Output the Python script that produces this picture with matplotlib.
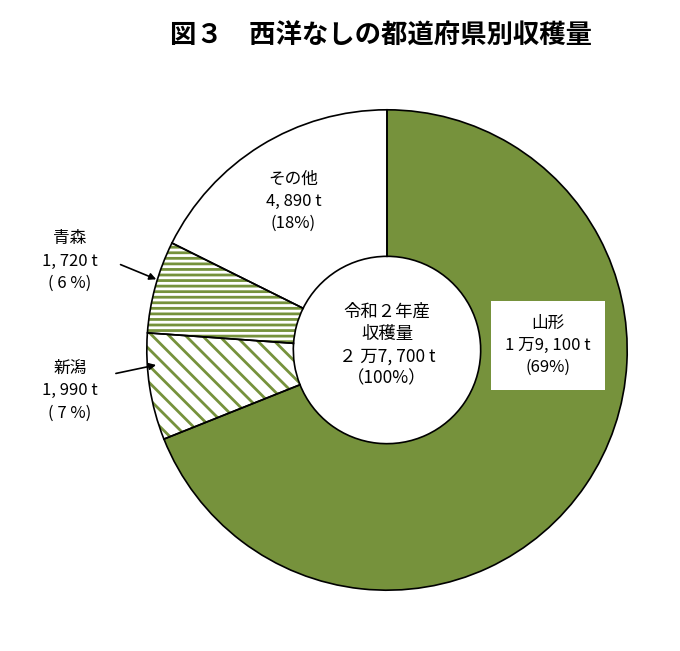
import matplotlib
matplotlib.use("Agg")
import matplotlib.pyplot as plt

plt.rcParams['font.family'] = ['Noto Sans CJK JP', 'DejaVu Sans']

categories = ['山形', '新潟', '青森', 'その他']
values = [19100, 1990, 1720, 4890]
labels = ['山形\n1 万9, 100 t\n(69%)', '新潟\n1, 990 t\n( 7 %)', '青森\n1, 720 t\n( 6 %)', 'その他\n4, 890 t\n(18%)']
green = '#76923C'

fig = plt.figure(figsize=(6.8, 6.51), dpi=100)
fig.text(0.56, 0.945, '図３　西洋なしの都道府県別収穫量', ha='center', va='center',
         fontsize=19, fontweight='bold')

cx, cy, r = 387/680, 1-350/651, 245
ax = fig.add_axes([cx - r/680, cy - r/651, 2*r/680, 2*r/651])
ax.set_aspect('equal')
plt.rcParams['hatch.linewidth'] = 2.0

faces = [green, 'white', 'white', 'white']
hatches = [None, '\\\\', '---', None]
w1, _ = ax.pie(values, startangle=90, counterclock=False, colors=faces, radius=1,
               wedgeprops=dict(width=0.61, linewidth=0))
for w, h in zip(w1, hatches):
    if h:
        w.set_hatch(h)
        w.set_edgecolor(green)
w2, _ = ax.pie(values, startangle=90, counterclock=False, radius=1,
               wedgeprops=dict(width=0.61, linewidth=1.2, edgecolor='black', fill=False))
ax.set_xlim(-1.02, 1.02); ax.set_ylim(-1.02, 1.02)
ax.axis('off')

fs = 12
ax.text(0, 0.02, '令和２年産\n収穫量\n２ 万7, 700 t\n（100%）', ha='center', va='center', fontsize=12.5, linespacing=1.3)
ax.text(0.67, 0.02, labels[0], ha='center', va='center', fontsize=fs, linespacing=1.4,
        bbox=dict(facecolor='white', edgecolor='none', pad=10))
ax.text(-0.39, 0.62, labels[3], ha='center', va='center', fontsize=fs, linespacing=1.4)
ax.text(-1.32, 0.37, labels[2], ha='center', va='center', fontsize=fs, linespacing=1.4)
ax.text(-1.32, -0.17, labels[1], ha='center', va='center', fontsize=fs, linespacing=1.4)
ax.annotate('', xy=(-0.95, 0.29), xytext=(-1.12, 0.36),
            arrowprops=dict(arrowstyle='-|>', color='black', lw=1.2), annotation_clip=False)
ax.annotate('', xy=(-0.95, -0.06), xytext=(-1.14, -0.10),
            arrowprops=dict(arrowstyle='-|>', color='black', lw=1.2), annotation_clip=False)

fig.savefig('out.png', dpi=100)
